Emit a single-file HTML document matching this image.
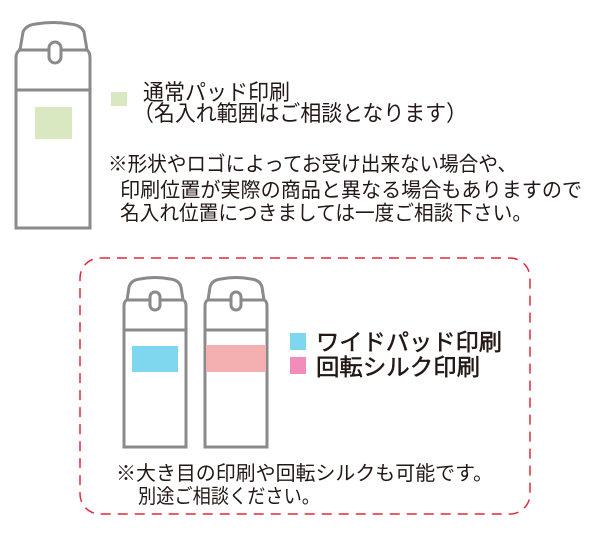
<!DOCTYPE html>
<html><head><meta charset="utf-8"><style>
html,body{margin:0;padding:0;background:#fff;width:600px;height:550px;overflow:hidden}
svg{display:block}
text{font-family:"Liberation Sans","Noto Sans CJK JP",sans-serif;fill:#231815}
</style></head><body>
<svg width="600" height="550" viewBox="0 0 600 550" xmlns="http://www.w3.org/2000/svg">
<!-- Bottle 1 -->
<g fill="none" stroke="#8a8a8a" stroke-width="3">
<path d="M16 228 V58 Q16 52 20 50 L23 32 Q26 25 36 24 Q53 21 70 24 Q81 25 84 32 L87 50 Q90 52 90 58 V228 Z"/>
<line x1="18" y1="50" x2="88" y2="50"/>
<line x1="16" y1="90" x2="90" y2="90"/>
<rect x="49" y="42" width="12" height="21" rx="6" fill="#fff"/>
</g>
<rect x="35" y="107" width="37" height="32" fill="#d9e8c1"/>
<rect x="111" y="92" width="16" height="14" fill="#d9e8c1"/>
<text x="143" y="100" font-size="22" textLength="147" lengthAdjust="spacingAndGlyphs">通常パッド印刷</text>
<text x="133" y="121" font-size="22" textLength="334" lengthAdjust="spacingAndGlyphs">（名入れ範囲はご相談となります）</text>
<text x="108" y="171" font-size="20.5" textLength="409" lengthAdjust="spacingAndGlyphs">※形状やロゴによってお受け出来ない場合や、</text>
<text x="120" y="197" font-size="20.5" textLength="462" lengthAdjust="spacingAndGlyphs">印刷位置が実際の商品と異なる場合もありますので</text>
<text x="120" y="220" font-size="20.5" textLength="412" lengthAdjust="spacingAndGlyphs">名入れ位置につきましては一度ご相談下さい。</text>

<!-- dashed box -->
<rect x="80" y="258" width="450" height="256" rx="20" fill="none" stroke="#e0283a" stroke-width="1.5" stroke-dasharray="10 7"/>

<!-- Bottle 2 -->
<g fill="none" stroke="#8a8a8a" stroke-width="3">
<path d="M124 447 V306 Q124 301 127 300 L129 287 Q131 280 140 279 Q155 276 170 279 Q179 280 181 287 L183 300 Q186 301 186 306 V447 Z"/>
<line x1="126" y1="300" x2="184" y2="300"/>
<line x1="124" y1="330" x2="186" y2="330"/>
<rect x="150" y="292" width="10" height="18" rx="5" fill="#fff"/>
</g>
<rect x="132" y="346" width="46" height="26" fill="#7fd6ef"/>
<!-- Bottle 3 -->
<g fill="none" stroke="#8a8a8a" stroke-width="3">
<path d="M205 447 V306 Q205 301 208 300 L210 287 Q212 280 221 279 Q236 276 251 279 Q260 280 262 287 L264 300 Q267 301 267 306 V447 Z"/>
<line x1="207" y1="300" x2="265" y2="300"/>
<line x1="205" y1="330" x2="267" y2="330"/>
<rect x="231" y="292" width="10" height="18" rx="5" fill="#fff"/>
</g>
<rect x="206" y="345" width="60" height="27" fill="#f4b0b1"/>

<rect x="290" y="333" width="16" height="17" fill="#7fd6ef"/>
<rect x="290" y="357" width="16" height="17" fill="#f28dbb"/>
<text x="316" y="350" font-size="23" stroke="#231815" stroke-width="0.5" textLength="186" lengthAdjust="spacingAndGlyphs">ワイドパッド印刷</text>
<text x="316" y="375" font-size="23" stroke="#231815" stroke-width="0.5" textLength="164" lengthAdjust="spacingAndGlyphs">回転シルク印刷</text>

<text x="116" y="480" font-size="20" textLength="377" lengthAdjust="spacingAndGlyphs">※大き目の印刷や回転シルクも可能です。</text>
<text x="138" y="503" font-size="20" textLength="182" lengthAdjust="spacingAndGlyphs">別途ご相談ください。</text>
</svg>
</body></html>
